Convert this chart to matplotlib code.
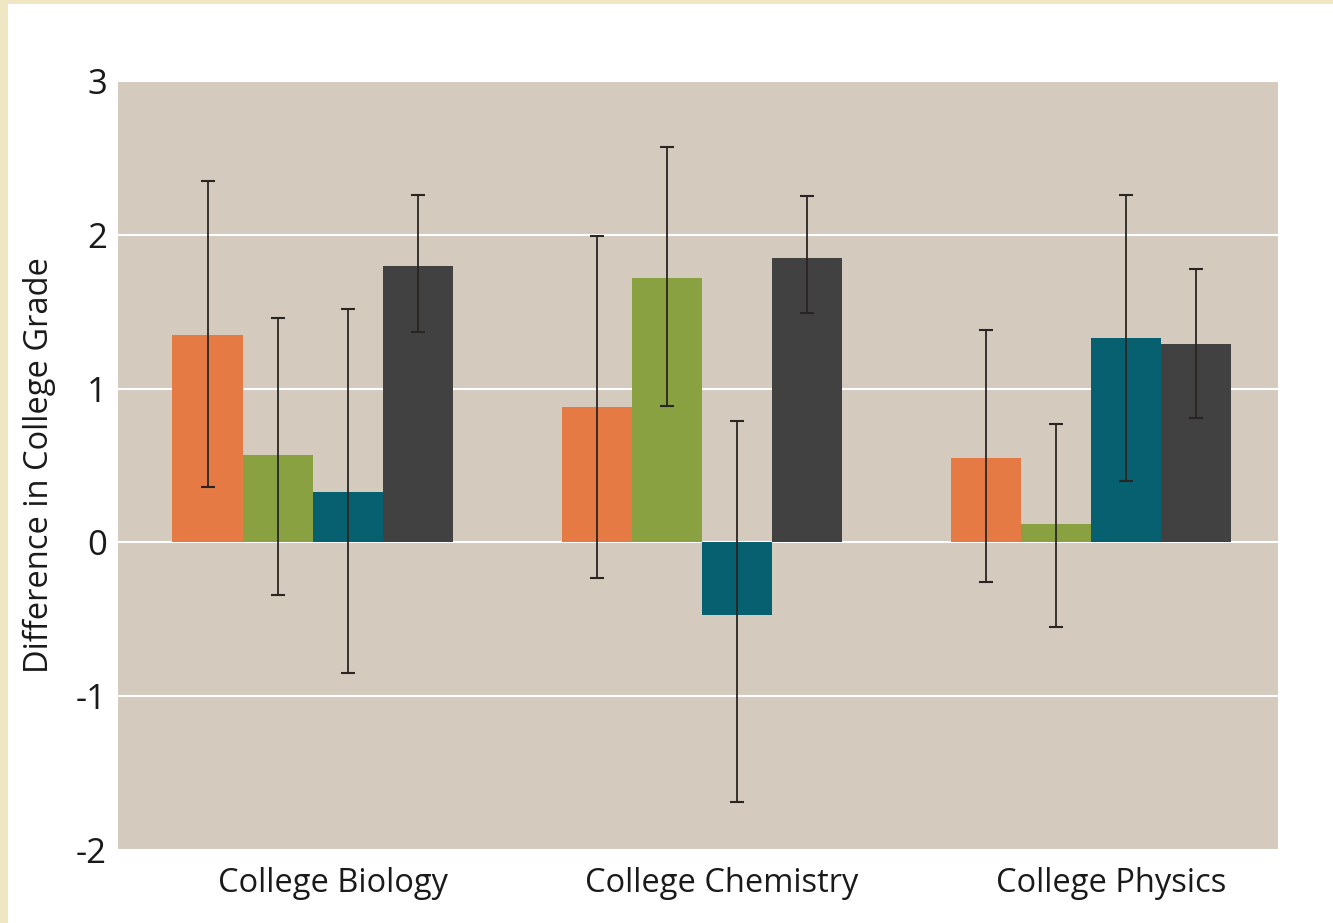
import matplotlib
matplotlib.use("Agg")
import matplotlib.pyplot as plt
import matplotlib.transforms as mtransforms
import numpy as np
from matplotlib.patches import Rectangle

categories = ["College Biology", "College Chemistry", "College Physics"]
series_names = ["A", "B", "C", "D"]
values = {
    "A": [1.35, 0.88, 0.55],
    "B": [0.57, 1.72, 0.12],
    "C": [0.33, -0.47, 1.33],
    "D": [1.80, 1.85, 1.29],
}
err_low = {
    "A": [0.36, -0.23, -0.26],
    "B": [-0.34, 0.89, -0.55],
    "C": [-0.85, -1.69, 0.40],
    "D": [1.37, 1.49, 0.81],
}
err_high = {
    "A": [2.35, 1.99, 1.38],
    "B": [1.46, 2.57, 0.77],
    "C": [1.52, 0.79, 2.26],
    "D": [2.26, 2.25, 1.78],
}
colors = ["#e57a44", "#8aa142", "#06606f", "#414141"]
yticks = [-2, -1, 0, 1, 2, 3]

plt.rcParams['font.family'] = ['Open Sans', 'DejaVu Sans']

fig = plt.figure(figsize=(13.33, 9.23), dpi=100)
fig.patch.set_facecolor("#efe6c4")
bg = Rectangle((8 / 1333, 0), 1 - 8 / 1333, 1 - 4 / 923,
               transform=fig.transFigure, facecolor="white",
               edgecolor="none", zorder=-10)
fig.add_artist(bg)

ax = fig.add_axes([118 / 1333, 1 - 850 / 923, 1160 / 1333, 769 / 923])
ax.set_zorder(1)
ax.set_facecolor("#d4cabd")

x = np.arange(len(categories))
w = 0.18
for i, s in enumerate(series_names):
    pos = x + (i - 1.5) * w
    v = np.array(values[s])
    lo = v - np.array(err_low[s])
    hi = np.array(err_high[s]) - v
    ax.bar(pos, v, width=w, color=colors[i], zorder=2, linewidth=0)
    ax.errorbar(pos, v, yerr=[lo, hi], fmt="none", ecolor="#2a2522",
                elinewidth=1.3, capsize=5, capthick=1.5, zorder=3)

ax.set_xlim(-0.50, 2.48)
ax.set_ylim(-2, 3)
ax.set_yticks(yticks)
ax.set_yticklabels([str(t) for t in yticks], fontsize=25, color="#1a1a1a")
ax.set_xticks(x)
ax.set_xticklabels(categories, fontsize=23.5, color="#1a1a1a")
ax.tick_params(length=0, pad=8)
ax.tick_params(axis="x", pad=12)
offset = mtransforms.ScaledTranslation(20 / 100, 0, fig.dpi_scale_trans)
for lab in ax.get_xticklabels():
    lab.set_transform(lab.get_transform() + offset)
ax.yaxis.grid(True, color="white", linewidth=1.5, zorder=1)
ax.set_axisbelow(True)
for sp in ax.spines.values():
    sp.set_visible(False)
ax.set_ylabel("Difference in College Grade", fontsize=23.5, color="#1a1a1a", labelpad=14)

fig.savefig("out.png", dpi=100, facecolor=fig.get_facecolor())
